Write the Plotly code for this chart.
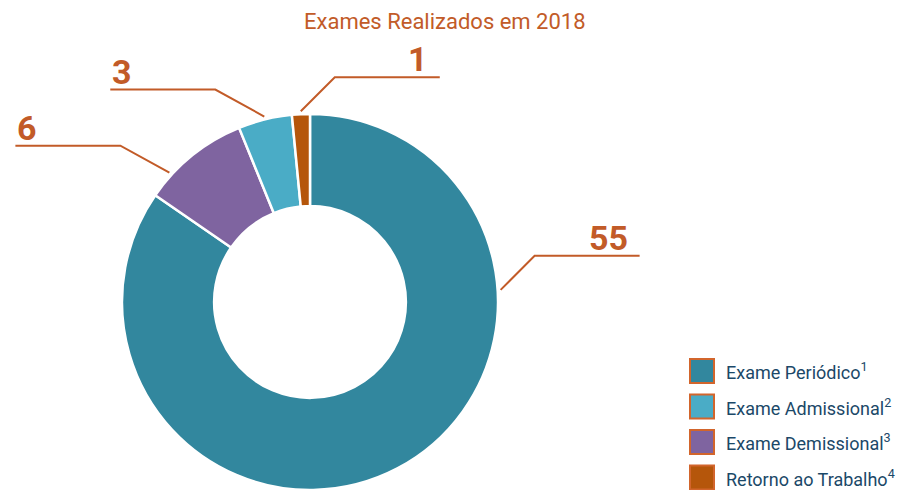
import math
import plotly.graph_objects as go

# Exam counts, listed in legend order (footnote numbers follow the same order)
categories = ["Exame Periódico", "Exame Admissional", "Exame Demissional", "Retorno ao Trabalho"]
values = [55, 3, 6, 1]
footnotes = ["1", "2", "3", "4"]
colors = ["#32879E", "#4AACC6", "#7F64A0", "#B5560B"]

# Slices run clockwise from 12 o'clock in this order (indices into the lists above)
slice_order = [0, 2, 1, 3]

TITLE = "Exames Realizados em 2018"

W, H = 908, 490
ACCENT = "#C25B28"
LEGEND_TEXT = "#1B4868"
FONT = "Roboto"


def px(x):
    return x / W


def py(y):
    return 1 - y / H


# donut geometry (pixels)
cx, cy, R = 310, 302, 188

pie_labels = [categories[i] for i in slice_order]
pie_values = [values[i] for i in slice_order]
pie_colors = [colors[i] for i in slice_order]

fig = go.Figure()
fig.add_trace(go.Pie(
    labels=pie_labels,
    values=pie_values,
    sort=False,
    direction="clockwise",
    rotation=0,
    hole=0.51,
    marker=dict(colors=pie_colors, line=dict(color="white", width=2.5)),
    textinfo="none",
    hoverinfo="label+value",
    domain=dict(x=[px(cx - R), px(cx + R)], y=[py(cy + R), py(cy - R)]),
    showlegend=False,
))

# value call-outs: leader from the ring, elbow, underline, number
anchor_frac = {0: 0.2835, 2: 0.24, 1: 0.5, 3: 0.5}
side = {0: 1, 2: -1, 1: -1, 3: 1}
shapes = []
annotations = []
total = sum(pie_values)
start = 0.0
for i in slice_order:
    span = values[i] / total * 360.0
    ang = math.radians(start + anchor_frac[i] * span)
    start += span
    x0 = cx + (R + 3) * math.sin(ang)
    y0 = cy - (R + 3) * math.cos(ang)
    s = side[i]
    if s > 0:
        x1, y1 = x0 + 34, y0 - 34
    else:
        x1, y1 = x0 - 49, y0 - 27
    x2 = x1 + s * 105
    shapes.append(dict(
        type="path", xref="paper", yref="paper",
        path=f"M {px(x0)},{py(y0)} L {px(x1)},{py(y1)} L {px(x2)},{py(y1)}",
        line=dict(color=ACCENT, width=2),
    ))
    annotations.append(dict(
        xref="paper", yref="paper",
        x=px(x2 - 10 if s > 0 else x2), y=py(y1 + 4),
        xanchor="right" if s > 0 else "left", yanchor="bottom",
        text=f"<b>{values[i]}</b>", showarrow=False,
        font=dict(family=FONT, size=34, color=ACCENT),
    ))

# title
annotations.append(dict(
    xref="paper", yref="paper", x=px(445), y=py(22),
    xanchor="center", yanchor="middle", text=TITLE, showarrow=False,
    font=dict(family=FONT, size=22, color=ACCENT),
))

# legend: bordered swatches with footnoted labels
leg_x, leg_y0, leg_dy, sw = 690, 371, 35.5, 24
for k, name in enumerate(categories):
    yc = leg_y0 + k * leg_dy
    shapes.append(dict(
        type="rect", xref="paper", yref="paper",
        x0=px(leg_x), x1=px(leg_x + sw), y0=py(yc + sw / 2), y1=py(yc - sw / 2),
        fillcolor=colors[k], line=dict(color="#D2652C", width=2),
    ))
    annotations.append(dict(
        xref="paper", yref="paper", x=px(leg_x + sw + 10), y=py(yc),
        xanchor="left", yanchor="middle",
        text=f"{name}<sup>{footnotes[k]}</sup>", showarrow=False,
        font=dict(family=FONT, size=18, color=LEGEND_TEXT),
    ))

fig.update_layout(
    width=W, height=H,
    margin=dict(l=0, r=0, t=0, b=0),
    paper_bgcolor="white", plot_bgcolor="white",
    shapes=shapes, annotations=annotations,
    showlegend=False,
)

fig.write_html("out.html")
